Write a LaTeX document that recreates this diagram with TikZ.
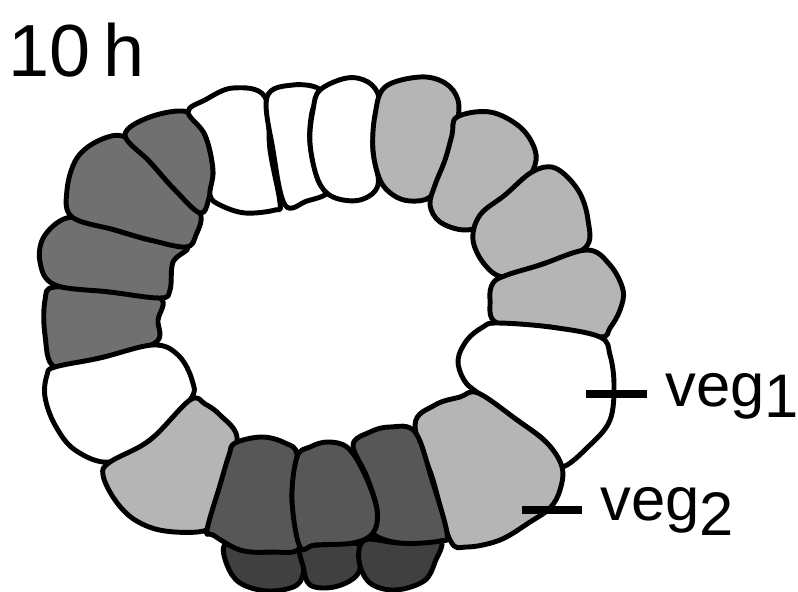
\documentclass[tikz,border=0pt]{standalone}
\usepackage{fontspec}
\setmainfont{Liberation Sans}
\usetikzlibrary{positioning}

\definecolor{cellDark}{gray}{0.44}
\definecolor{cellMid}{gray}{0.34}
\definecolor{cellDeep}{gray}{0.25}
\definecolor{cellLight}{gray}{0.71}

\begin{document}
\begin{tikzpicture}[x=0.01cm,y=-0.01cm,
		cell/.style={draw=black,line width=1.4pt,line join=round},
		tick/.style={line width=2.1pt},
		lbl/.style={inner sep=0pt,anchor=base west}]
			\useasboundingbox (0,0) rectangle (798,592);
			% bottom row, lying behind
			\draw[cell,fill=cellDeep] plot[smooth cycle,tension=0.6] coordinates {(225,545) (250,551) (272,552) (300,547) (304,566) (297,585) (268,591) (240,583) (227,565)};
			\draw[cell,fill=cellDeep] plot[smooth cycle,tension=0.6] coordinates {(300,547) (317,545) (353,543) (362,551) (357,575) (334,587) (310,585) (303,566)};
			\draw[cell,fill=cellDeep] plot[smooth cycle,tension=0.6] coordinates {(365,540) (400,543) (440,540) (435,562) (424,581) (395,590) (370,583) (359,561)};
			% dark cells, left side
			\draw[cell,fill=cellDark] plot[smooth cycle,tension=0.6] coordinates {(55,287) (110,292) (160,298) (158,320) (155,343) (100,358) (55,367) (45,335) (45,300)};
			\draw[cell,fill=cellDark] plot[smooth cycle,tension=0.6] coordinates {(72,217) (115,230) (150,240) (187,247) (173,262) (170,290) (160,298) (110,292) (55,285) (40,262) (45,235)};
			\draw[cell,fill=cellDark] plot[smooth cycle,tension=0.6] coordinates {(125,137) (150,162) (175,190) (200,213) (196,235) (186,247) (150,240) (115,230) (72,217) (67,190) (77,158) (100,140)};
			\draw[cell,fill=cellDark] plot[smooth cycle,tension=0.6] coordinates {(125,135) (150,117) (188,112) (205,135) (213,170) (209,198) (200,213) (175,190) (150,162)};
			% white cells on top
			\draw[cell,fill=white] plot[smooth cycle,tension=0.6] coordinates {(188,112) (205,100) (233,88) (265,97) (270,150) (280,203) (275,210) (245,213) (220,205) (210,195) (213,170) (205,135)};
			\draw[cell,fill=white] plot[smooth cycle,tension=0.6] coordinates {(267,97) (293,85) (320,90) (312,112) (310,143) (318,180) (327,193) (307,201) (285,205) (273,150)};
			\draw[cell,fill=white] plot[smooth cycle,tension=0.6] coordinates {(320,90) (347,78) (368,82) (379,97) (375,117) (373,150) (378,185) (360,200) (333,197) (318,180) (310,143) (313,110)};
			% light cells, upper right
			\draw[cell,fill=cellLight] plot[smooth cycle,tension=0.6] coordinates {(385,87) (420,77) (445,83) (458,100) (457,125) (450,150) (440,175) (430,197) (410,201) (393,195) (380,180) (373,150) (375,115)};
			\draw[cell,fill=cellLight] plot[smooth cycle,tension=0.6] coordinates {(457,117) (490,112) (520,127) (535,150) (533,170) (513,200) (490,222) (465,230) (440,222) (430,205) (435,185) (445,160) (452,135)};
			\draw[cell,fill=cellLight] plot[smooth cycle,tension=0.6] coordinates {(480,215) (505,195) (532,172) (555,168) (578,190) (588,220) (585,248) (540,265) (505,277) (485,265) (473,240)};
			\draw[cell,fill=cellLight] plot[smooth cycle,tension=0.6] coordinates {(497,323) (490,300) (493,283) (507,275) (540,265) (587,250) (610,265) (623,290) (620,310) (610,328) (600,337) (550,327)};
			% white cell at veg1
			\draw[cell,fill=white] plot[smooth cycle,tension=0.6] coordinates {(497,323) (550,327) (600,337) (610,355) (614,385) (610,420) (590,445) (561,467) (547,443) (517,420) (478,393) (464,380) (458,360) (467,340) (483,327)};
			% light cell at veg2
			\draw[cell,fill=cellLight] plot[smooth cycle,tension=0.6] coordinates {(415,425) (435,405) (460,397) (478,393) (517,420) (547,443) (562,467) (560,490) (550,508) (530,522) (500,540) (467,547) (450,540) (433,480)};
			% lower left
			\draw[cell,fill=white] plot[smooth cycle,tension=0.6] coordinates {(55,367) (100,358) (153,345) (178,355) (192,380) (190,400) (150,440) (110,462) (75,450) (55,425) (45,397) (47,375)};
			\draw[cell,fill=cellLight] plot[smooth cycle,tension=0.6] coordinates {(110,462) (150,440) (190,400) (205,404) (220,415) (237,437) (228,475) (215,510) (207,530) (165,531) (135,520) (115,500) (103,475)};
			% middle bottom row
			\draw[cell,fill=cellMid] plot[smooth cycle,tension=0.6] coordinates {(235,443) (262,437) (285,443) (297,455) (292,500) (300,547) (270,552) (240,550) (213,535) (207,530) (220,485) (229,455)};
			\draw[cell,fill=cellMid] plot[smooth cycle,tension=0.6] coordinates {(353,445) (370,432) (390,427) (415,432) (432,480) (447,533) (440,541) (400,543) (373,533) (377,510) (367,477)};
			\draw[cell,fill=cellMid] plot[smooth cycle,tension=0.6] coordinates {(297,457) (310,447) (328,442) (348,448) (365,475) (377,510) (373,533) (353,543) (315,545) (300,547) (292,500)};
			% labels and ticks
			\node[lbl,font=\fontsize{21}{25}\selectfont] (time) at (8,77) {10\,h};
			\node[lbl,font=\fontsize{17.5}{21}\selectfont] (veg1) at (665,407) {veg\raisebox{-3pt}{1}};
			\node[lbl,font=\fontsize{17.5}{21}\selectfont] (veg2) at (600,520) {veg\raisebox{-4.5pt}{2}};
			\draw[tick] (586,394) -- (647,394);
			\draw[tick] (522,510) -- (582,510);
		\end{tikzpicture}
\end{document}
